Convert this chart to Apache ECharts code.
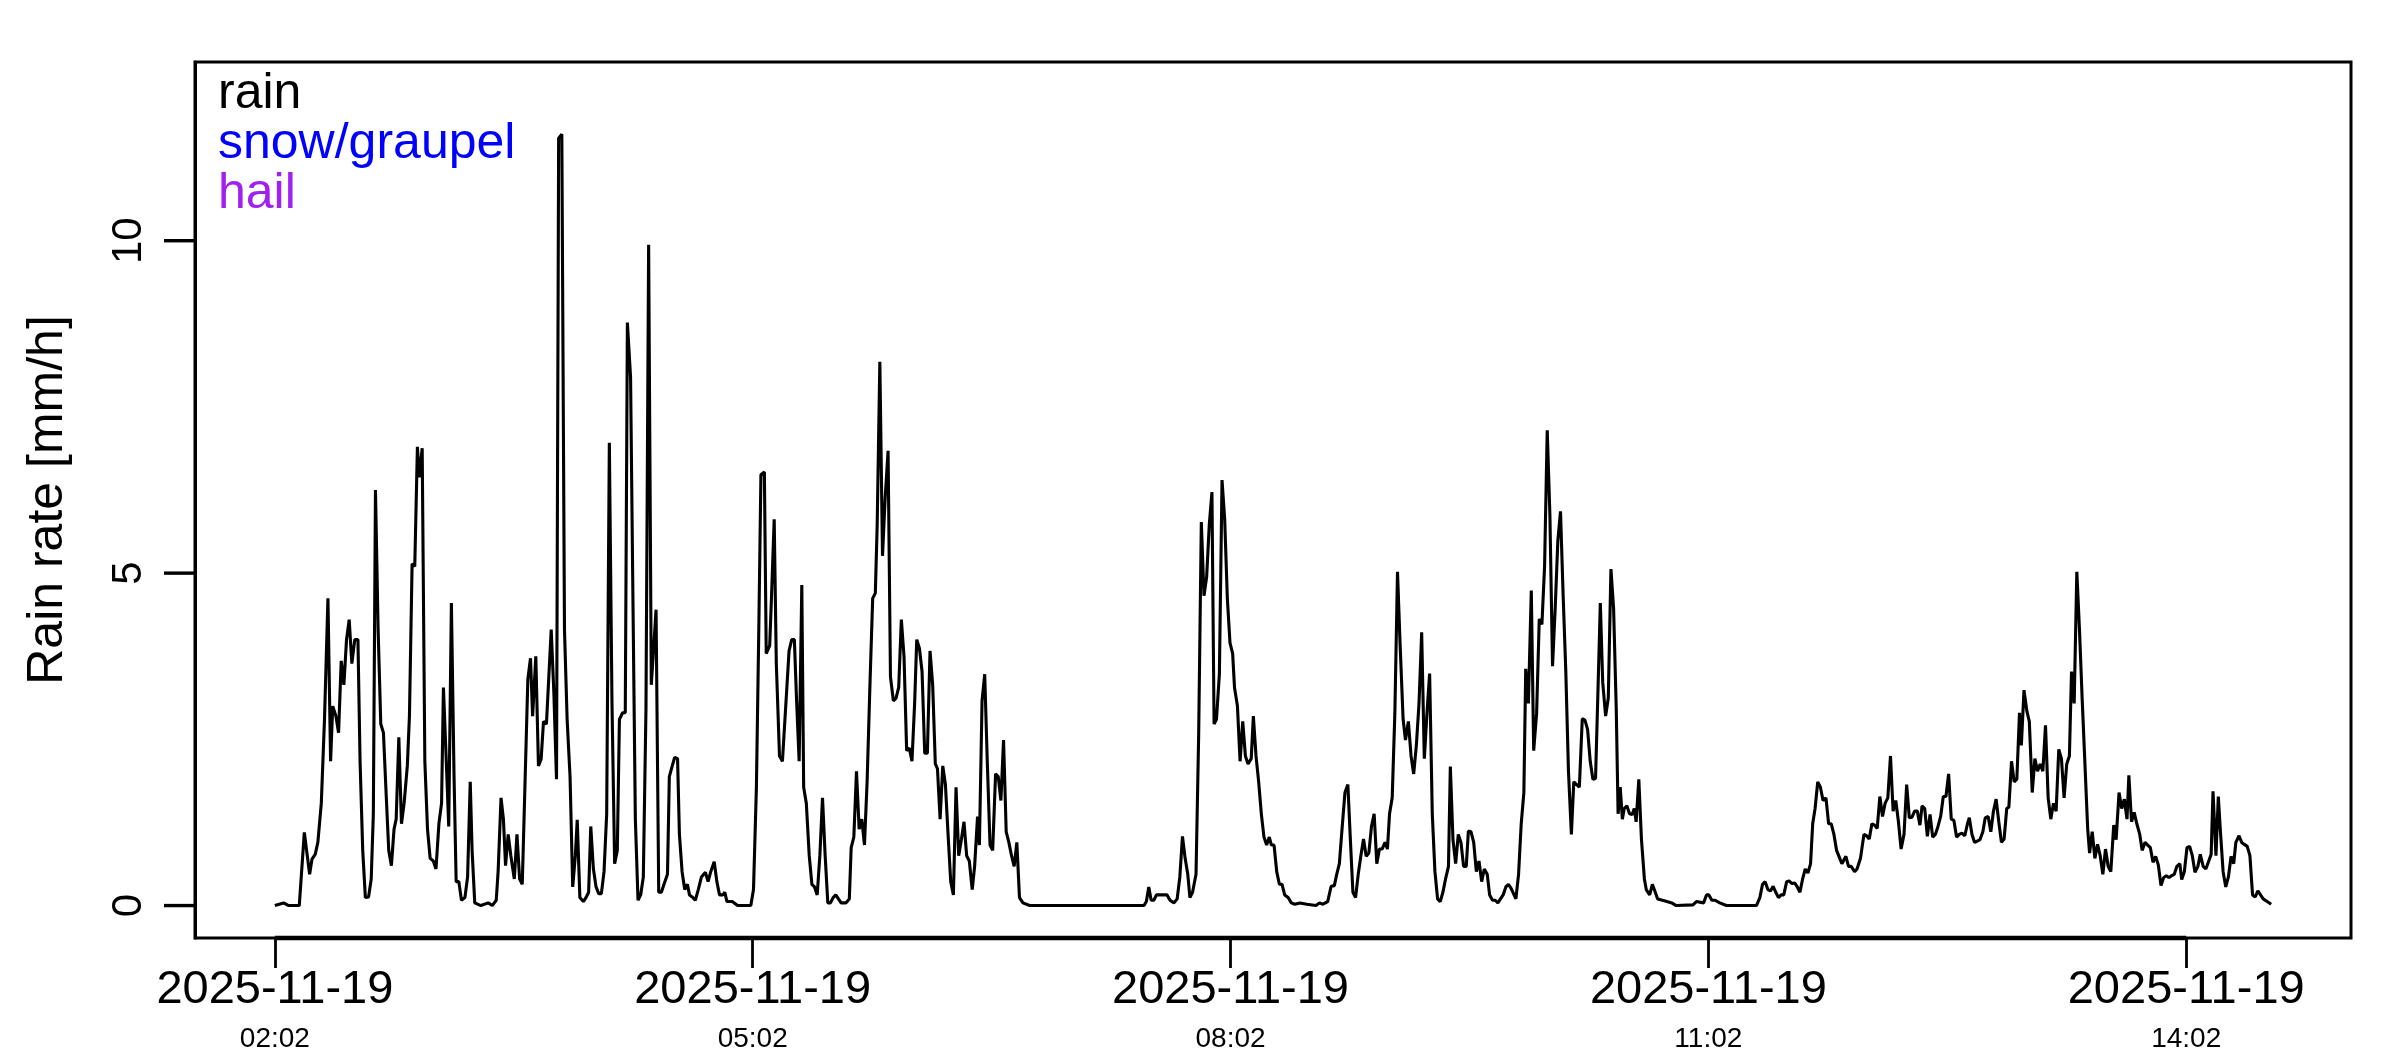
<!DOCTYPE html>
<html><head><meta charset="utf-8">
<script src="https://cdn.jsdelivr.net/npm/echarts@6/dist/echarts.min.js"></script>
<style>html,body{margin:0;padding:0;background:#fff}#c{width:2400px;height:1050px}</style>
</head><body><div id="c"></div>
<script>
// ---- data (time = minutes after 2025-11-19 02:02, value = rain rate mm/h) ----
const startDate = '2025-11-19';
const startClockMinutes = 122; // 02:02
const tickMinutes = [0, 180, 360, 540, 720];
const yTickValues = [0, 5, 10];
const legendNames = ['rain', 'snow/graupel', 'hail'];
const legendColors = ['#000000', '#0000ff', '#a020f0'];

const burst1 = [[0,0],[3.3,0.04],[5.2,0],[9.2,0],[11.1,1.1],[13.1,0.47],[14.0,0.7],[15.2,0.77],[16.2,0.95],[17.5,1.54],[18.7,2.8],[20.0,4.62],[21.0,2.17],[21.8,3.0],[23.0,2.85],[24.0,2.6],[25.0,3.68],[26.0,3.32],[27.0,4.0],[28.0,4.3],[29.0,3.64],[30.1,4.0],[31.3,4.0],[32.1,2.17],[33.1,0.83],[34.1,0.12],[35.3,0.13],[36.3,0.4],[37.1,1.38],[37.9,6.25],[38.9,4.15],[39.9,2.73],[40.9,2.6],[41.9,1.7],[42.9,0.83],[43.9,0.6],[44.9,1.15],[45.7,1.3],[46.7,2.53],[47.7,1.23],[48.7,1.54],[49.9,2.1],[50.7,2.85],[51.7,5.14],[52.7,5.1],[53.7,6.9],[54.4,6.44],[55.5,6.88],[56.5,2.17],[57.5,1.15],[58.5,0.71],[59.7,0.67],[60.7,0.55],[61.8,1.23],[62.8,1.54],[63.5,3.28],[64.5,2.25],[65.5,1.19],[66.5,4.55],[67.5,1.94],[68.3,0.36],[69.3,0.36],[70.3,0.08],[71.6,0.12],[72.6,0.43],[73.6,1.86],[74.3,0.83],[75.3,0.04],[77.6,0],[80.4,0.04],[81.9,0],[83.4,0.08],[84.1,0.51],[85.2,1.62],[86.1,1.3],[86.9,0.6],[87.9,1.07],[88.9,0.75],[90.2,0.4],[91.2,1.07],[92.2,0.4],[93.2,0.32]];

const burst2 = [[95.3,3.4],[96.3,3.72],[97.1,2.85],[98.3,3.75],[99.3,2.1],[100.3,2.2],[101.2,2.77],[102.3,2.73],[104.1,4.15],[105.1,3.2],[106.1,1.9],[106.9,11.54],[108.1,11.6],[109.1,4.15],[110.1,2.8],[111.2,1.94],[112.2,0.28],[113.2,0.75],[113.9,1.29],[114.9,0.12],[116.2,0.06],[117.2,0.12],[118.2,0.2],[119.0,1.19],[120.0,0.55],[121.0,0.28],[122.0,0.18],[123.0,0.18],[124.0,0.51],[125.0,1.38],[126.0,6.96],[127.0,3.04],[128.0,0.63],[129.0,0.83],[129.8,2.8],[131.0,2.9],[132.0,2.9],[132.8,8.77],[134.0,7.94],[134.8,4.94],[135.8,1.3],[136.8,0.08],[137.8,0.16],[138.8,0.43],[139.8,2.96],[140.8,9.94],[141.8,3.32],[142.9,4.0],[143.6,4.45],[144.6,0.2],[145.6,0.2],[146.6,0.32],[147.9,0.47],[148.6,1.94],[149.7,2.1],[150.6,2.23],[151.7,2.21],[152.4,1.07],[153.4,0.51],[154.4,0.24],[155.4,0.32],[156.2,0.16],[157.2,0.13],[158.4,0.08],[159.5,0.24],[160.7,0.43],[162.2,0.5],[163.2,0.36],[164.2,0.51],[165.5,0.66],[166.5,0.36],[167.5,0.16],[168.8,0.16],[169.5,0.2],[170.3,0.06],[172.3,0.06],[174.3,0],[179.3,0],[180.3,0.24],[181.4,1.78],[182.3,4.15],[183.1,6.48],[184.4,6.52],[185.1,3.79],[186.4,3.91],[187.1,4.66],[188.1,5.81],[188.9,3.64],[190.1,2.25],[191.2,2.17]];

const burst3 = [[193.7,3.83],[194.7,4.0],[195.7,4.0],[196.5,3.12],[197.5,2.17],[198.5,4.82],[199.2,1.78],[200.2,1.54],[201.3,0.75],[202.3,0.32],[203.3,0.28],[204.3,0.16],[205.3,0.75],[206.3,1.62],[207.3,0.75],[208.3,0.04],[209.3,0.04],[210.3,0.12],[211.3,0.16],[212.3,0.1],[213.3,0.04],[215.1,0.04],[216.4,0.1],[217.1,0.87],[218.1,1.03],[219.1,2.02],[220.1,1.15],[221.1,1.3],[222.1,0.91],[223.1,1.86],[224.2,3.36],[225.2,4.62],[226.2,4.7],[226.9,5.73],[227.9,8.18],[228.9,5.26],[229.9,6.13],[231.0,6.84],[231.9,3.44],[233.0,3.08],[234.0,3.12],[235.0,3.28],[236.0,4.3],[237.0,3.75],[238.0,2.33],[239.0,2.37],[240.0,2.17],[241.0,3.04],[241.8,4.0],[242.8,3.87],[243.8,3.52],[244.8,2.29],[245.8,2.29],[246.8,3.83],[247.8,3.32],[248.8,2.13],[249.6,2.06],[250.6,1.3],[251.6,2.1],[252.6,1.82],[253.6,1.07],[254.6,0.36],[255.6,0.16],[256.6,1.78],[257.6,0.75],[258.6,0.99],[259.6,1.26],[260.6,0.75],[261.6,0.67],[262.7,0.24],[263.6,0.59],[264.7,1.34],[265.4,0.91],[266.4,3.08],[267.4,3.48],[268.4,2.13],[269.4,0.91],[270.4,0.83],[271.5,1.98],[272.5,1.94],[273.5,1.58],[274.5,2.49],[275.5,1.11],[276.5,0.95],[277.5,0.75],[278.5,0.59],[279.5,0.95],[280.5,0.12],[281.8,0.04],[284.3,0]];

const burst4 = [[327.4,0],[328.3,0.06],[329.2,0.28],[330.1,0.08],[331.1,0.08],[332.1,0.16],[333.4,0.16],[334.6,0.16],[336.1,0.16],[337.2,0.08],[338.7,0.04],[339.9,0.1],[340.9,0.43],[341.9,1.04],[342.9,0.71],[343.9,0.47],[344.7,0.12],[345.7,0.2],[347.0,0.47],[348.0,2.57],[349.0,5.77],[350.0,4.66],[351.0,4.94],[352.0,5.73],[353.0,6.22],[353.8,2.73],[354.7,2.8],[355.8,3.48],[356.8,6.4],[357.8,5.81],[358.8,4.62],[359.8,3.95],[360.8,3.79],[361.5,3.28],[362.6,3.0],[363.6,2.17],[364.6,2.77],[365.6,2.25],[366.6,2.13],[367.8,2.21],[368.6,2.85],[369.6,2.25],[370.6,1.86],[371.6,1.38],[372.6,1.03],[373.6,0.91],[374.6,1.03],[375.4,0.91],[376.4,0.91],[377.4,0.51],[378.4,0.32],[379.4,0.32],[380.4,0.16],[381.7,0.12],[382.9,0.04],[384.2,0.02],[386.2,0.04],[388.7,0.02]];

const burst5 = [[392.2,0],[393.5,0.04],[394.8,0.02],[396.6,0.06],[397.9,0.29],[399.1,0.3],[400.0,0.47],[401.0,0.63],[402.0,1.15],[403.1,1.7],[404.2,1.82],[405.1,1.03],[406.1,0.2],[407.1,0.12],[408.1,0.47],[409.1,0.75],[410.1,1.0],[411.1,0.74],[412.1,0.79],[413.1,1.19],[414.1,1.38],[415.1,0.63],[416.1,0.85],[417.1,0.85],[418.2,0.95],[419.1,0.85],[419.9,1.38],[420.9,1.62],[421.9,2.89],[422.9,5.02],[423.9,3.91],[425.0,2.81],[425.9,2.49],[427.0,2.77],[428.0,2.25],[429.0,1.98],[430.0,2.41],[431.0,3.04],[432.0,4.11],[433.0,2.21],[434.0,2.89],[435.0,3.49],[436.0,1.38],[437.0,0.51],[438.0,0.1],[439.0,0.06],[440.0,0.2],[441.0,0.4],[442.1,0.59],[442.8,2.09],[443.8,0.99],[444.8,0.63],[445.8,1.07],[446.8,0.95],[447.8,0.59],[448.8,0.59],[449.6,1.12],[450.6,1.11],[451.6,0.95],[452.6,0.51],[453.6,0.67],[454.6,0.36],[455.6,0.55],[456.7,0.47],[457.6,0.16],[458.7,0.08],[459.7,0.08],[460.7,0.04],[461.7,0.1],[462.7,0.16],[463.7,0.28],[464.7,0.32],[465.7,0.26],[467.5,0.1],[468.5,0.47],[469.5,1.23],[470.5,1.7],[471.2,3.56],[472.2,3.04],[473.3,4.74],[474.2,2.33],[475.3,2.89],[476.3,4.31],[477.3,4.23],[478.3,5.1],[479.3,7.15],[480.3,5.89],[481.3,3.6],[482.3,4.47],[483.3,5.49],[484.3,5.93],[485.3,4.66],[486.3,3.52],[487.3,2.02],[488.4,1.07],[489.3,1.86]];

const burst6 = [[491.4,1.78],[492.5,2.81],[493.5,2.79],[494.5,2.65],[495.5,2.17],[496.5,1.9],[497.5,1.91],[498.5,3.36],[499.3,4.55],[500.2,3.36],[501.3,2.85],[502.3,3.12],[503.3,5.06],[504.3,4.47],[505.3,2.96],[506.0,1.38],[506.8,1.78],[507.6,1.3],[508.3,1.46],[509.3,1.5],[510.3,1.38],[511.3,1.37],[512.1,1.46],[512.8,1.26],[513.8,1.9],[514.8,0.99],[515.9,0.4],[516.6,0.24],[517.9,0.16],[518.9,0.32],[519.9,0.21],[520.9,0.1],[522.7,0.08],[524.4,0.06],[526.2,0.04],[527.9,0],[534.2,0.01],[535.5,0.06],[538.2,0.04],[539.3,0.16],[540.2,0.16],[541.3,0.08],[542.5,0.08],[544.3,0.04],[546.8,0],[558.1,0],[559.4,0.12],[560.4,0.32],[561.4,0.36],[562.4,0.24],[563.4,0.22],[564.4,0.29],[565.4,0.2],[566.4,0.12],[567.4,0.16],[568.4,0.16],[569.5,0.36],[570.4,0.37],[571.5,0.33],[572.5,0.34],[573.5,0.28],[574.5,0.2],[575.5,0.4],[576.5,0.55],[577.5,0.49],[578.5,0.63],[579.3,1.23],[580.2,1.46],[581.2,1.86],[582.2,1.78],[583.2,1.58],[584.3,1.62],[585.3,1.23],[586.3,1.23],[587.3,1.07],[588.3,0.83]];

const burst7 = [[590.3,0.63],[591.8,0.74],[592.8,0.59],[593.8,0.59],[595.1,0.51],[596.0,0.55],[597.3,0.71],[598.6,1.07],[599.6,1.05],[600.6,1.0],[601.6,1.23],[602.6,1.21],[603.6,1.16],[604.6,1.64],[605.6,1.34],[606.6,1.54],[607.6,1.62],[608.6,2.25],[609.6,1.42],[610.6,1.58],[611.6,1.26],[612.6,0.85],[613.7,1.07],[614.7,1.82],[615.7,1.32],[616.7,1.33],[617.7,1.42],[618.7,1.42],[619.7,1.21],[620.5,1.5],[621.5,1.46],[622.5,1.04],[623.5,1.37],[624.5,1.03],[625.5,1.07],[626.5,1.19],[627.5,1.34],[628.5,1.64],[629.5,1.64],[630.5,1.98],[631.5,1.3],[632.5,1.28],[633.5,1.03],[634.5,1.07],[635.5,1.09],[636.6,1.05],[637.6,1.23],[638.3,1.32],[639.3,1.07],[640.3,0.95],[641.3,0.97],[642.3,0.99],[643.4,1.11],[644.3,1.32],[645.4,1.34],[646.4,1.11],[647.4,1.42],[648.4,1.6],[649.4,1.26],[650.4,0.95],[651.4,1.0],[652.4,1.46],[653.2,1.48],[654.2,2.17],[655.2,1.86],[656.2,1.9],[657.2,2.9],[657.9,2.41],[658.9,3.24],[660.0,2.92],[660.9,2.77],[662.0,1.7],[663.0,2.21],[664.0,2.02],[665.0,2.13],[666.0,2.02],[667.0,2.71],[668.0,1.62],[669.0,1.3],[670.0,1.54],[671.0,1.42],[672.0,2.35],[673.0,2.21],[674.0,1.62],[675.0,2.13],[676.0,2.25],[676.8,3.52],[677.8,3.04],[678.8,5.02],[679.8,4.15],[680.8,3.12]];

const burst8 = [[682.9,1.15],[683.6,0.79],[684.6,1.11],[685.6,0.71],[686.6,0.92],[687.6,0.75],[688.6,0.47],[689.6,0.85],[690.6,0.59],[691.6,0.51],[692.7,1.21],[693.6,0.99],[694.7,1.7],[695.7,1.46],[696.7,1.6],[697.7,1.3],[698.4,1.96],[699.4,1.26],[700.4,1.4],[701.4,1.23],[702.5,1.07],[703.4,0.83],[704.5,0.95],[705.5,0.91],[706.5,0.87],[707.5,0.65],[708.5,0.74],[709.5,0.61],[710.5,0.3],[711.5,0.42],[712.5,0.45],[713.5,0.42],[714.5,0.45],[715.5,0.47],[716.5,0.59],[717.6,0.63],[718.3,0.39],[719.3,0.51],[720.3,0.87],[721.3,0.89],[722.3,0.75],[723.3,0.5],[724.4,0.59],[725.3,0.77],[726.4,0.59],[727.4,0.55],[728.4,0.66],[729.4,0.77],[730.1,1.72],[731.2,0.75],[732.1,1.64],[732.9,1.11],[733.9,0.51],[734.9,0.28],[735.9,0.43],[736.9,0.74],[737.9,0.63],[738.7,0.95],[739.9,1.05],[740.9,0.95],[741.9,0.92],[743.0,0.89],[744.0,0.75],[745.0,0.16],[746.0,0.13],[747.0,0.22],[748.0,0.16],[749.0,0.1],[750.5,0.06],[752.0,0.02]];

// ---- build ----
const rainData = [].concat(burst1, burst2, burst3, burst4, burst5, burst6, burst7, burst8);
const tEnd = rainData[rainData.length - 1][0];
const xPad = 0.04 * tEnd;             // R-style 4% axis extension
const yLimTop = 12.2;
const yPad = 0.04 * yLimTop;
const xMin = -xPad, xMax = tEnd + xPad, yMin = -yPad, yMax = yLimTop + yPad;
const FONT = '"Liberation Sans", Arial, Helvetica, sans-serif';
const TICK_LEN = 31;

function clock(v) {
  const m = Math.round(startClockMinutes + v);
  const hh = String(Math.floor(m / 60) % 24).padStart(2, '0');
  const mm = String(m % 60).padStart(2, '0');
  return hh + ':' + mm;
}

const chart = echarts.init(document.getElementById('c'), null, {renderer: 'canvas'});
chart.setOption({
  animation: false,
  backgroundColor: '#ffffff',
  textStyle: {fontFamily: FONT},
  grid: {
    left: 195, top: 62, width: 2156, height: 876,
    show: true, borderColor: '#000', borderWidth: 3, backgroundColor: 'transparent',
    outerBoundsMode: 'none'
  },
  legend: {
    orient: 'vertical', left: 208, top: 64, itemGap: 0,
    icon: 'none', itemWidth: 0, itemHeight: 0, selectedMode: false,
    textStyle: {fontSize: 50, lineHeight: 48, fontFamily: FONT},
    data: legendNames.map((n, i) => ({name: n, textStyle: {color: legendColors[i], fontSize: 50, lineHeight: 48}}))
  },
  xAxis: {
    type: 'value', min: xMin, max: xMax,
    splitLine: {show: false},
    axisLine: {show: false, onZero: false},
    axisTick: {show: true, customValues: tickMinutes, length: 30, inside: false,
               lineStyle: {color: '#000', width: 2.8}},
    axisLabel: {
      customValues: tickMinutes, margin: 26, color: '#000',
      formatter: v => '{d|' + startDate + '}\n{t|' + clock(v) + '}',
      rich: {
        d: {fontSize: 47, lineHeight: 52, fontFamily: FONT, color: '#000'},
        t: {fontSize: 28, lineHeight: 46, fontFamily: FONT, color: '#000'}
      }
    }
  },
  yAxis: {
    type: 'value', min: yMin, max: yMax,
    name: 'Rain rate [mm/h]', nameLocation: 'middle', nameGap: 122,
    nameTextStyle: {fontSize: 50, color: '#000', fontFamily: FONT},
    splitLine: {show: false},
    axisLine: {show: true, onZero: false, lineStyle: {color: '#000', width: 3}},
    axisTick: {show: false},
    axisLabel: {customValues: yTickValues, rotate: 90, margin: 45, fontSize: 42,
                color: '#000', fontFamily: FONT}
  },
  series: [
    {name: 'rain', type: 'line', data: rainData, showSymbol: false, symbol: 'none',
     lineStyle: {color: '#000', width: 3.1}, itemStyle: {color: '#000'}, silent: true},
    {name: 'snow/graupel', type: 'line', data: [], itemStyle: {color: legendColors[1]}},
    {name: 'hail', type: 'line', data: [], itemStyle: {color: legendColors[2]}},
    {name: 'x-axis line', type: 'line', silent: true, clip: false, symbol: 'none',
     data: [[tickMinutes[0], yMin], [tickMinutes[tickMinutes.length - 1], yMin]],
     lineStyle: {color: '#000', width: 4.5}, z: 5},
    {name: 'y ticks', type: 'custom', clip: false, z: 10,
     data: yTickValues.map(v => [xMin, v]),
     renderItem: (params, api) => {
       const p = api.coord([api.value(0), api.value(1)]);
       return {type: 'line', z2: 100,
               shape: {x1: p[0] - TICK_LEN, y1: p[1], x2: p[0] + 1, y2: p[1]},
               style: {stroke: '#000', lineWidth: 3.4, opacity: 1}};
     }}
  ]
});
</script>
</body></html>
